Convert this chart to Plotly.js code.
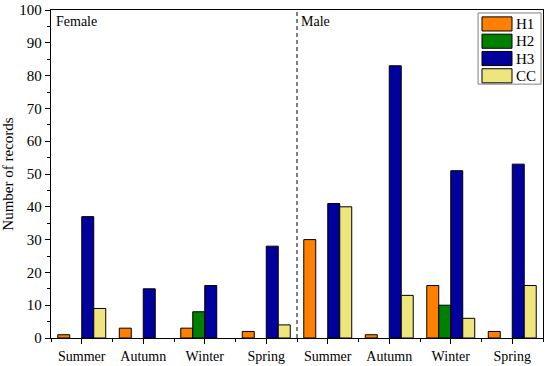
<!DOCTYPE html>
<html>
<head>
<meta charset="utf-8">
<script src="https://cdn.plot.ly/plotly-3.0.1.min.js"></script>
<style>html,body{margin:0;padding:0;background:#fff;}#chart{width:550px;height:366px;}</style>
</head>
<body>
<div id="chart"></div>
<script>
// Categories (Female: first four, Male: last four)
const categories = ["Summer","Autumn","Winter","Spring","Summer","Autumn","Winter","Spring"];
const groups = ["Female","Male"];
const seriesNames = ["H1","H2","H3","CC"];
const H1 = [1, 3, 3, 2, 30, 1, 16, 2];
const H2 = [0, 0, 8, 0, 0, 0, 10, 0];
const H3 = [37, 15, 16, 28, 41, 83, 51, 53];
const CC = [9, 0, 0, 4, 40, 13, 6, 16];
const colors = ["#FF8000", "#008000", "#00009C", "#EEE67C"];

const positions = categories.map((_, i) => i);
const seriesValues = [H1, H2, H3, CC];

const traces = seriesValues.map((vals, k) => ({
  type: "bar",
  name: seriesNames[k],
  x: positions,
  y: vals.map(v => (v === 0 ? null : v)),
  marker: {color: colors[k], line: {color: "#000", width: 1}},
  showlegend: false,
  hoverinfo: "x+y+name"
}));

const font = "Liberation Serif";

const shapes = [
  {type: "line", xref: "x", yref: "paper", x0: 3.5, x1: 3.5, y0: 0, y1: 1,
   line: {color: "#000", width: 1, dash: "4px,3px"}},
  {type: "rect", xref: "paper", yref: "paper", x0: 0.868, x1: 0.996, y0: 0.774, y1: 0.991,
   line: {color: "#808080", width: 1}, fillcolor: "#fff", layer: "above"}
];
const annotations = [
  {text: groups[0], xref: "paper", yref: "paper", x: 0.006, y: 0.995, xanchor: "left", yanchor: "top",
   showarrow: false, font: {family: font, size: 14, color: "#000"}},
  {text: groups[1], xref: "x", yref: "paper", x: 3.5, y: 0.995, xanchor: "left", yanchor: "top", xshift: 2,
   showarrow: false, font: {family: font, size: 14, color: "#000"}}
];
const rowTop = 0.979, rowH = 0.0527, swH = 0.043;
seriesNames.forEach((n, k) => {
  const yt = rowTop - k * rowH;
  shapes.push({type: "rect", xref: "paper", yref: "paper", x0: 0.876, x1: 0.937, y0: yt - swH, y1: yt,
    line: {color: "#000", width: 1}, fillcolor: colors[k], layer: "above"});
  annotations.push({text: n, xref: "paper", yref: "paper", x: 0.941, y: yt - swH / 2, xanchor: "left", yanchor: "middle",
    showarrow: false, font: {family: font, size: 15, color: "#000"}});
});

const layout = {
  width: 550, height: 366,
  margin: {l: 51, r: 7, t: 10, b: 28},
  paper_bgcolor: "#fff", plot_bgcolor: "#fff",
  barmode: "group", bargap: 0.22, bargroupgap: 0,
  font: {family: font, size: 14, color: "#000"},
  xaxis: {
    range: [-0.5, 7.5], tickmode: "array", tickvals: positions, ticktext: categories,
    ticks: "outside", ticklen: 5, tickwidth: 1, tickcolor: "#000",
    minor: {tickmode: "linear", tick0: 0.5, dtick: 1, ticks: "outside", ticklen: 3, tickcolor: "#000", showgrid: false},
    showline: true, linecolor: "#000", linewidth: 1.2, mirror: true, showgrid: false, zeroline: false,
    tickfont: {family: font, size: 14, color: "#000"}, fixedrange: true
  },
  yaxis: {
    range: [0, 100], dtick: 10, ticks: "outside", ticklen: 5, tickwidth: 1, tickcolor: "#000",
    minor: {dtick: 5, ticks: "outside", ticklen: 3, tickcolor: "#000", showgrid: false},
    showline: true, linecolor: "#000", linewidth: 1.2, mirror: true, showgrid: false, zeroline: false,
    tickfont: {family: font, size: 15, color: "#000"},
    title: {text: "Number of records", font: {family: font, size: 15, color: "#000"}, standoff: 6},
    fixedrange: true
  },
  shapes: shapes,
  annotations: annotations,
  showlegend: false
};

Plotly.newPlot("chart", traces, layout, {displayModeBar: false, staticPlot: true});
</script>
</body>
</html>
